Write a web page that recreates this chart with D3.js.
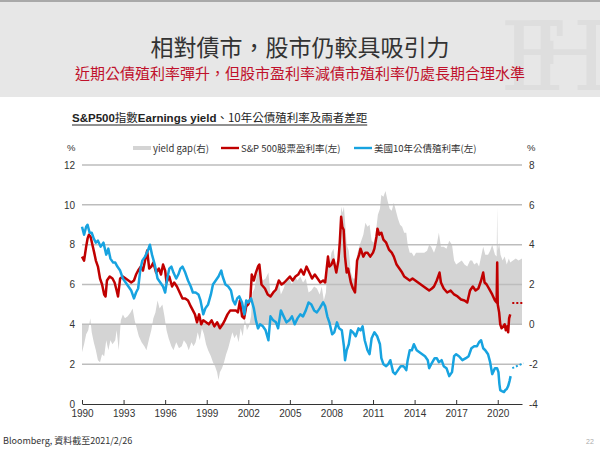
<!DOCTYPE html>
<html><head><meta charset="utf-8">
<script src="https://cdn.jsdelivr.net/npm/d3@7"></script>
<style>
body{margin:0;background:#fff;}
svg{display:block;font-family:"Liberation Sans","Noto Sans CJK TC",sans-serif;}
</style>
</head><body>
<svg id="c" width="600" height="456"></svg>
<script>
// ---- data (year, value) ----
const earningsYield = [
[1990.0,7.4],[1990.15,7.2],[1990.3,7.9],[1990.4,8.3],[1990.5,8.5],[1990.62,8.4],[1990.75,8.0],[1990.88,7.6],[1991.0,7.2],[1991.15,6.9],[1991.3,6.3],[1991.45,6.0],[1991.6,5.5],[1991.7,5.4],[1991.8,6.2],[1992.0,6.4],[1992.2,6.3],[1992.35,6.1],[1992.5,5.7],[1992.6,5.4],[1992.75,6.3],[1992.95,6.4],[1993.15,6.3],[1993.35,6.2],[1993.55,6.1],[1993.75,6.2],[1993.9,6.5],[1994.05,6.7],[1994.25,6.9],[1994.4,6.7],[1994.55,7.2],[1994.7,7.7],[1994.85,6.8],[1995.0,6.9],[1995.15,7.1],[1995.35,6.6],[1995.55,6.8],[1995.7,6.5],[1995.85,7.0],[1996.0,6.7],[1996.1,6.1],[1996.3,6.4],[1996.5,5.9],[1996.65,6.1],[1996.85,5.9],[1997.05,5.6],[1997.25,5.3],[1997.45,5.3],[1997.65,5.2],[1997.85,4.9],[1998.0,4.7],[1998.15,4.5],[1998.3,4.1],[1998.45,4.5],[1998.6,4.0],[1998.75,4.2],[1998.95,4.1],[1999.15,4.0],[1999.35,4.2],[1999.55,3.9],[1999.75,4.1],[1999.95,3.8],[2000.15,4.0],[2000.3,4.2],[2000.5,4.5],[2000.7,4.7],[2000.9,4.7],[2001.1,4.7],[2001.25,4.6],[2001.4,5.2],[2001.55,4.4],[2001.7,4.3],[2001.85,4.9],[2002.0,5.0],[2002.15,5.3],[2002.25,6.5],[2002.4,6.2],[2002.55,6.6],[2002.7,6.9],[2002.8,7.0],[2002.95,6.0],[2003.2,5.8],[2003.4,5.5],[2003.6,5.4],[2003.8,5.6],[2004.0,5.75],[2004.2,6.2],[2004.4,6.0],[2004.6,6.1],[2004.8,6.25],[2005.0,6.4],[2005.2,6.2],[2005.4,6.4],[2005.6,6.5],[2005.8,6.75],[2006.0,6.5],[2006.2,6.9],[2006.4,6.6],[2006.6,6.3],[2006.8,6.5],[2007.0,6.3],[2007.2,6.1],[2007.4,6.2],[2007.55,6.1],[2007.75,7.4],[2007.85,6.9],[2008.0,7.0],[2008.15,7.25],[2008.35,6.6],[2008.5,7.2],[2008.6,8.1],[2008.7,9.4],[2008.78,8.9],[2008.88,8.75],[2008.98,7.4],[2009.1,6.6],[2009.2,6.8],[2009.4,6.1],[2009.55,5.8],[2009.7,5.6],[2009.85,7.2],[2010.0,7.5],[2010.1,7.8],[2010.3,7.4],[2010.45,7.6],[2010.6,7.6],[2010.8,7.4],[2011.0,7.6],[2011.1,7.8],[2011.25,8.4],[2011.32,8.8],[2011.45,8.5],[2011.6,8.6],[2011.75,8.25],[2011.95,8.1],[2012.15,7.75],[2012.35,7.6],[2012.5,7.4],[2012.7,7.0],[2012.9,6.8],[2013.1,6.6],[2013.25,6.4],[2013.45,6.3],[2013.65,6.2],[2013.85,6.3],[2014.05,6.2],[2014.25,6.1],[2014.45,6.0],[2014.65,5.9],[2014.85,5.8],[2015.05,5.7],[2015.25,5.8],[2015.4,5.9],[2015.6,6.2],[2015.8,6.6],[2015.9,6.1],[2016.1,5.8],[2016.35,5.6],[2016.6,5.7],[2016.85,5.5],[2017.1,5.4],[2017.35,5.25],[2017.6,5.2],[2017.8,5.1],[2018.0,5.7],[2018.2,5.9],[2018.4,5.7],[2018.6,5.8],[2018.8,6.2],[2018.95,6.6],[2019.05,6.1],[2019.2,6.0],[2019.4,5.75],[2019.6,5.5],[2019.8,5.2],[2019.92,5.1],[2019.96,7.1],[2020.0,5.0],[2020.1,4.6],[2020.18,4.0],[2020.28,3.8],[2020.4,3.9],[2020.5,4.0],[2020.58,3.7],[2020.68,3.9],[2020.75,3.6],[2020.82,4.3],[2020.9,4.5]
];
const treasury10y = [
[1990.0,8.9],[1990.15,8.5],[1990.3,8.9],[1990.4,9.0],[1990.55,8.6],[1990.7,8.6],[1990.85,8.3],[1991.0,8.1],[1991.15,8.2],[1991.35,7.9],[1991.55,8.1],[1991.75,7.5],[1991.9,7.8],[1992.05,7.3],[1992.25,7.1],[1992.4,7.1],[1992.55,6.9],[1992.75,6.7],[1992.95,6.3],[1993.15,6.1],[1993.35,5.9],[1993.55,5.7],[1993.75,5.3],[1993.9,5.6],[1994.05,5.8],[1994.2,6.7],[1994.35,7.2],[1994.55,7.4],[1994.75,7.7],[1994.9,8.0],[1995.05,7.5],[1995.25,7.0],[1995.45,6.3],[1995.65,6.1],[1995.85,5.9],[1996.0,5.6],[1996.15,6.3],[1996.3,6.8],[1996.45,6.9],[1996.6,6.6],[1996.8,6.3],[1996.95,6.5],[1997.1,6.8],[1997.25,6.9],[1997.45,6.6],[1997.65,6.2],[1997.85,5.9],[1998.0,5.6],[1998.2,5.6],[1998.4,5.5],[1998.55,5.2],[1998.75,4.5],[1998.9,4.8],[1999.1,5.0],[1999.3,5.5],[1999.45,6.0],[1999.65,6.2],[1999.85,6.4],[2000.05,6.7],[2000.15,6.4],[2000.35,6.0],[2000.55,5.9],[2000.75,5.7],[2000.9,5.2],[2001.05,5.0],[2001.2,5.3],[2001.35,5.4],[2001.55,5.1],[2001.72,4.5],[2001.85,5.2],[2002.0,5.1],[2002.2,5.3],[2002.4,4.8],[2002.55,4.2],[2002.7,3.8],[2002.85,4.0],[2003.05,3.9],[2003.25,3.7],[2003.45,3.2],[2003.6,4.4],[2003.8,4.2],[2004.0,4.1],[2004.15,3.8],[2004.35,4.7],[2004.55,4.4],[2004.75,4.1],[2004.95,4.2],[2005.15,4.4],[2005.35,4.0],[2005.55,4.3],[2005.75,4.5],[2005.95,4.4],[2006.15,4.7],[2006.35,5.1],[2006.55,5.0],[2006.75,4.7],[2006.95,4.6],[2007.15,4.8],[2007.4,5.1],[2007.55,4.9],[2007.7,4.4],[2007.85,4.1],[2008.05,3.5],[2008.2,3.6],[2008.4,4.1],[2008.55,3.8],[2008.75,3.7],[2008.9,2.9],[2008.98,2.2],[2009.1,2.7],[2009.25,3.0],[2009.4,3.7],[2009.55,3.6],[2009.75,3.4],[2009.95,3.8],[2010.1,3.7],[2010.25,3.9],[2010.4,3.2],[2010.6,2.7],[2010.75,2.5],[2010.9,3.3],[2011.1,3.6],[2011.3,3.4],[2011.5,3.0],[2011.6,2.3],[2011.75,2.0],[2011.95,1.9],[2012.1,2.0],[2012.25,2.2],[2012.45,1.6],[2012.6,1.5],[2012.8,1.7],[2013.0,1.9],[2013.2,1.9],[2013.4,1.7],[2013.5,2.2],[2013.65,2.7],[2013.8,2.7],[2013.95,3.0],[2014.15,2.7],[2014.35,2.6],[2014.55,2.5],[2014.75,2.4],[2014.95,2.2],[2015.05,1.8],[2015.2,2.0],[2015.45,2.3],[2015.6,2.3],[2015.75,2.1],[2015.95,2.2],[2016.1,1.9],[2016.3,1.8],[2016.5,1.4],[2016.7,1.6],[2016.85,2.4],[2017.0,2.5],[2017.2,2.4],[2017.45,2.2],[2017.7,2.3],[2017.9,2.4],[2018.1,2.8],[2018.3,2.9],[2018.5,2.9],[2018.65,3.1],[2018.8,3.2],[2018.95,2.8],[2019.1,2.7],[2019.3,2.5],[2019.45,2.1],[2019.6,1.5],[2019.8,1.8],[2019.95,1.8],[2020.05,1.6],[2020.12,1.0],[2020.18,0.7],[2020.3,0.65],[2020.45,0.6],[2020.55,0.7],[2020.65,0.75],[2020.75,0.9],[2020.85,1.15],[2020.93,1.4]
];
const yieldGap = [
[1990.0,-1.4],[1990.15,-1.0],[1990.3,-0.5],[1990.45,-0.3],[1990.6,0.3],[1990.7,-0.4],[1990.85,-0.9],[1991.0,-1.3],[1991.15,-1.8],[1991.3,-1.9],[1991.45,-1.5],[1991.6,-1.6],[1991.75,-0.8],[1991.9,-1.3],[1992.05,-0.8],[1992.2,-1.0],[1992.4,-0.8],[1992.5,-0.3],[1992.65,-1.3],[1992.8,0.2],[1992.95,0.5],[1993.1,0.3],[1993.3,0.4],[1993.5,0.6],[1993.65,0.8],[1993.8,0.2],[1993.95,-0.2],[1994.1,-0.6],[1994.3,-0.9],[1994.5,-1.1],[1994.65,-1.3],[1994.85,-0.7],[1995.0,-0.3],[1995.15,0.3],[1995.3,0.6],[1995.45,1.2],[1995.6,0.8],[1995.8,1.0],[1995.95,0.4],[1996.1,-0.3],[1996.25,-0.7],[1996.45,-1.1],[1996.6,-1.3],[1996.8,-0.9],[1997.0,-1.2],[1997.2,-1.1],[1997.35,-0.8],[1997.55,-1.0],[1997.7,-1.3],[1997.9,-0.9],[1998.05,-1.1],[1998.2,-0.9],[1998.35,-0.4],[1998.5,-0.8],[1998.65,-0.2],[1998.8,-0.5],[1998.95,-1.0],[1999.1,-1.3],[1999.3,-1.6],[1999.45,-1.9],[1999.6,-2.1],[1999.75,-2.4],[1999.85,-2.8],[1999.95,-2.4],[2000.1,-2.2],[2000.25,-1.9],[2000.4,-1.5],[2000.55,-1.2],[2000.7,-0.8],[2000.85,-0.4],[2001.0,-0.7],[2001.15,-0.5],[2001.3,-0.9],[2001.45,-0.2],[2001.6,-0.6],[2001.75,0.3],[2001.9,-0.3],[2002.05,-0.1],[2002.2,0.4],[2002.3,1.6],[2002.45,1.8],[2002.6,2.4],[2002.75,2.9],[2002.9,2.4],[2003.05,2.2],[2003.25,2.3],[2003.45,2.6],[2003.6,1.5],[2003.8,1.6],[2004.0,1.9],[2004.2,2.1],[2004.35,1.5],[2004.55,1.8],[2004.75,2.2],[2004.95,2.3],[2005.15,2.0],[2005.35,2.4],[2005.55,2.2],[2005.75,2.4],[2005.95,2.1],[2006.15,2.3],[2006.35,1.6],[2006.55,1.7],[2006.75,1.9],[2006.95,1.8],[2007.15,1.5],[2007.3,1.9],[2007.45,1.2],[2007.6,1.6],[2007.75,3.2],[2007.85,2.9],[2008.0,3.6],[2008.15,3.8],[2008.35,2.7],[2008.5,3.5],[2008.6,4.4],[2008.7,5.9],[2008.8,5.6],[2008.9,5.9],[2009.0,5.0],[2009.1,4.0],[2009.25,3.7],[2009.4,2.6],[2009.55,2.3],[2009.7,2.3],[2009.85,3.5],[2010.0,3.9],[2010.15,4.2],[2010.3,4.5],[2010.45,5.1],[2010.6,4.9],[2010.75,5.0],[2010.9,4.2],[2011.05,4.1],[2011.2,4.6],[2011.35,5.5],[2011.5,5.8],[2011.6,6.5],[2011.75,6.4],[2011.9,6.7],[2012.05,6.2],[2012.2,5.8],[2012.35,5.7],[2012.5,6.1],[2012.65,5.7],[2012.8,5.3],[2012.95,5.0],[2013.1,4.9],[2013.25,4.6],[2013.4,4.6],[2013.5,4.0],[2013.65,3.6],[2013.8,3.6],[2013.95,3.4],[2014.1,3.6],[2014.3,3.6],[2014.5,3.6],[2014.7,3.6],[2014.9,3.7],[2015.05,4.0],[2015.2,3.9],[2015.4,3.6],[2015.6,4.0],[2015.75,4.6],[2015.9,3.9],[2016.1,3.9],[2016.3,3.8],[2016.5,4.2],[2016.7,4.0],[2016.85,3.2],[2017.0,3.0],[2017.2,3.1],[2017.4,3.2],[2017.6,3.0],[2017.8,2.9],[2018.0,3.2],[2018.15,3.2],[2018.3,3.0],[2018.5,3.1],[2018.65,2.9],[2018.8,3.4],[2018.95,3.9],[2019.1,3.5],[2019.3,3.5],[2019.45,3.7],[2019.6,4.0],[2019.8,3.5],[2019.92,3.4],[2019.96,5.9],[2020.0,3.7],[2020.1,4.1],[2020.2,3.5],[2020.35,3.2],[2020.5,3.4],[2020.65,3.0],[2020.8,3.3],[2020.9,3.1],[2021.1,3.2],[2021.3,3.3],[2021.5,3.2],[2021.75,3.3]
];
const forecastEY = [[2021.05,5.07],[2021.85,5.07]];
const forecastUST = [[2021.05,1.8],[2021.85,2.05]];
const xTicks = [1990,1993,1996,1999,2002,2005,2008,2011,2014,2017,2020];
const leftTicks = [0,2,4,6,8,10,12];
const rightTicks = [-4,-2,0,2,4,6,8];
const legendLabels = ["yield gap(右)","S&P 500股票盈利率(左)","美國10年公債殖利率(左)"];

const svg = d3.select("#c");
const cjk = '"Noto Sans CJK TC","Liberation Sans",sans-serif';

// header band
svg.append("rect").attr("x",0).attr("y",0).attr("width",600).attr("height",97).attr("fill","#e7e7e7");
svg.append("rect").attr("x",0).attr("y",0).attr("width",600).attr("height",2).attr("fill","#a9a9a9");
// watermark monogram
svg.append("text").attr("x",500).attr("y",90).attr("font-family","'DejaVu Serif',serif").attr("font-size",96)
  .attr("letter-spacing",-40).attr("fill","#dedede").text("FH");

svg.append("text").attr("x",300).attr("y",56).attr("text-anchor","middle").attr("font-family",cjk)
  .attr("font-size",23).attr("fill","#333").text("相對債市，股市仍較具吸引力");
svg.append("text").attr("x",300).attr("y",79).attr("text-anchor","middle").attr("font-family",cjk)
  .attr("font-size",15).attr("fill","#c0112b").text("近期公債殖利率彈升，但股市盈利率減債市殖利率仍處長期合理水準");

// chart title
const ct = svg.append("text").attr("x",72).attr("y",122).attr("font-size",11.5).attr("fill","#222");
ct.append("tspan").attr("font-weight","bold").text("S&P500");
ct.append("tspan").attr("font-family",cjk).text("指數");
ct.append("tspan").attr("font-weight","bold").text("Earnings yield");
ct.append("tspan").attr("font-family",cjk).text("、10年公債殖利率及兩者差距");
const ctw = ct.node().getComputedTextLength();
svg.append("line").attr("x1",72).attr("x2",72+ctw).attr("y1",125).attr("y2",125).attr("stroke","#222").attr("stroke-width",1);

// scales
const x = d3.scaleLinear().domain([1990,2021.75]).range([82,522]);
const yL = d3.scaleLinear().domain([0,12]).range([404,165]);
const yR = d3.scaleLinear().domain([-4,8]).range([404,165]);

// gap area
const area = d3.area().x(d=>x(d[0])).y0(yR(0)).y1(d=>yR(d[1]));
svg.append("path").datum(yieldGap).attr("d",area).attr("fill","#d4d4d4");

// gridlines
svg.append("g").selectAll("line").data(leftTicks.filter(d=>d>0)).join("line")
  .attr("x1",82).attr("x2",522).attr("y1",d=>yL(d)).attr("y2",d=>yL(d))
  .attr("stroke","#bdbdbd").attr("stroke-width",1.5);

// axes
const ax = svg.append("g").attr("transform","translate(0,404)")
  .call(d3.axisBottom(x).tickValues(xTicks).tickFormat(d3.format("d")).tickSizeInner(-4).tickSizeOuter(0).tickPadding(6));
ax.select(".domain").attr("stroke","#333");
ax.selectAll(".tick line").attr("stroke","#333");
ax.selectAll("text").attr("font-size",10).attr("fill","#333").attr("font-family","Liberation Sans");

const al = svg.append("g").attr("transform","translate(78,0)")
  .call(d3.axisLeft(yL).tickValues(leftTicks).tickFormat(d=>String(d)).tickSize(0).tickPadding(3));
al.select(".domain").remove();
al.selectAll("text").attr("font-size",10).attr("fill","#333").attr("font-family","Liberation Sans");

const ar = svg.append("g").attr("transform","translate(526,0)")
  .call(d3.axisRight(yR).tickValues(rightTicks).tickFormat(d=>String(d)).tickSize(0).tickPadding(3));
ar.select(".domain").remove();
ar.selectAll("text").attr("font-size",10).attr("fill","#333").attr("font-family","Liberation Sans");

// lines
const lineL = d3.line().x(d=>x(d[0])).y(d=>yL(d[1]));
svg.append("path").datum(earningsYield).attr("d",lineL).attr("fill","none")
  .attr("stroke","#c00000").attr("stroke-width",2.5).attr("stroke-linejoin","round");
svg.append("path").datum(treasury10y).attr("d",lineL).attr("fill","none")
  .attr("stroke","#17a3e0").attr("stroke-width",2.5).attr("stroke-linejoin","round");
svg.append("path").datum(forecastEY).attr("d",lineL).attr("fill","none")
  .attr("stroke","#c00000").attr("stroke-width",2).attr("stroke-dasharray","2,2");
svg.append("path").datum(forecastUST).attr("d",lineL).attr("fill","none")
  .attr("stroke","#17a3e0").attr("stroke-width",2).attr("stroke-dasharray","2,2");

// legend
const lg = svg.append("g").attr("font-size",9.5).attr("fill","#333");
lg.append("text").attr("x",67).attr("y",151).text("%");
lg.append("text").attr("x",527).attr("y",151).text("%");
const legItems = [
  {x:133, color:"#d4d4d4", w:4},
  {x:221, color:"#c00000", w:2.4},
  {x:354, color:"#17a3e0", w:2.4}
];
legItems.forEach((it,i)=>{
  lg.append("line").attr("x1",it.x).attr("x2",it.x+18).attr("y1",148).attr("y2",148)
    .attr("stroke",it.color).attr("stroke-width",it.w);
  lg.append("text").attr("x",it.x+20).attr("y",151.5).attr("font-family",cjk).text(legendLabels[i]);
});

// footer
svg.append("text").attr("x",3).attr("y",444).attr("font-size",9).attr("fill","#333").attr("font-family",cjk)
  .text("Bloomberg, 資料截至2021/2/26");
svg.append("text").attr("x",586).attr("y",444).attr("font-size",7).attr("fill","#aaa").text("22");
</script>
</body></html>
